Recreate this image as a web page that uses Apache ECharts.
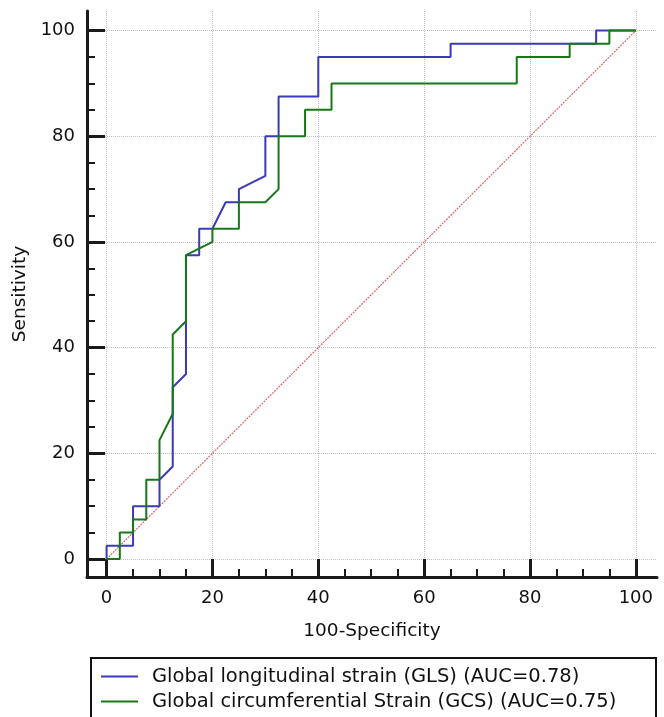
<!DOCTYPE html>
<html>
<head>
<meta charset="utf-8">
<script src="https://cdn.jsdelivr.net/npm/echarts@6/dist/echarts.min.js"></script>
<style>
html,body{margin:0;padding:0;background:#fff;}
#chart{width:664px;height:717px;}
</style>
</head>
<body>
<div id="chart"></div>
<script>
// ROC curve points: [100-Specificity, Sensitivity]
const glsName = 'Global longitudinal strain (GLS) (AUC=0.78)';
const gcsName = 'Global circumferential Strain (GCS) (AUC=0.75)';
const glsPoints = [
  [0,0],[0,2.5],[5,2.5],[5,10],[10,10],[10,15],[12.5,17.5],[12.5,32.5],[15,35],
  [15,57.5],[17.5,57.5],[17.5,62.5],[20,62.5],[22.5,67.5],[25,67.5],[25,70],
  [30,72.5],[30,80],[32.5,80],[32.5,87.5],[40,87.5],[40,95],[65,95],[65,97.5],
  [92.5,97.5],[92.5,100],[100,100]
];
const gcsPoints = [
  [0,0],[2.5,0],[2.5,5],[5,5],[5,7.5],[7.5,7.5],[7.5,15],[10,15],[10,22.5],
  [12.5,27.5],[12.5,42.5],[15,45],[15,57.5],[20,60],[20,62.5],[25,62.5],[25,67.5],
  [30,67.5],[32.5,70],[32.5,80],[37.5,80],[37.5,85],[42.5,85],[42.5,90],[77.5,90],
  [77.5,95],[87.5,95],[87.5,97.5],[95,97.5],[95,100],[100,100]
];
const diagonalPoints = [[0,0],[100,100]];
const majorTicks = [0,20,40,60,80,100];
const minorTicks = [5,10,15,25,30,35,45,50,55,65,70,75,85,90,95];

const font = 'DejaVu Sans, Verdana, sans-serif';
const gridBox = {left:87, right:7, top:11, bottom:140};
const xRange = {min:-3.7, max:104.0};
const yRange = {min:-3.4, max:103.7};

const chart = echarts.init(document.getElementById('chart'));
chart.setOption({
  animation:false,
  backgroundColor:'#fff',
  grid:[Object.assign({containLabel:false}, gridBox), Object.assign({containLabel:false}, gridBox)],
  graphic:[{
    type:'rect', left:90, top:657, z:0,
    shape:{width:565, height:80},
    style:{fill:'#fff', stroke:'#111', lineWidth:2}
  }],
  legend:{
    data:[{name:glsName},{name:gcsName}],
    orient:'vertical',
    left:101, top:664,
    padding:0,
    itemGap:0,
    icon:'rect', itemWidth:37, itemHeight:2,
    textStyle:{fontFamily:font, fontSize:19.5, color:'#111', lineHeight:25, padding:[0,0,0,9]},
    selectedMode:false
  },
  xAxis:[{
    type:'value', gridIndex:0, min:xRange.min, max:xRange.max,
    name:'100-Specificity', nameLocation:'middle', nameGap:45,
    nameTextStyle:{fontFamily:font, fontSize:18.5, color:'#111'},
    axisLine:{show:true, onZero:false, lineStyle:{color:'#1a1a1a', width:3}},
    axisTick:{show:true, inside:true, length:18, customValues:majorTicks, lineStyle:{color:'#1a1a1a', width:3}},
    axisLabel:{customValues:majorTicks, margin:12, fontFamily:font, fontSize:18, color:'#111'},
    splitLine:{show:true, lineStyle:{color:'#c0c0c0', type:'dotted', width:1}}
  },{
    type:'value', gridIndex:1, min:xRange.min, max:xRange.max,
    axisLine:{show:false, onZero:false},
    axisTick:{show:true, inside:true, length:8, customValues:minorTicks, lineStyle:{color:'#1a1a1a', width:2}},
    axisLabel:{show:false},
    splitLine:{show:false}
  }],
  yAxis:[{
    type:'value', gridIndex:0, min:yRange.min, max:yRange.max,
    name:'Sensitivity', nameLocation:'middle', nameGap:52,
    nameTextStyle:{fontFamily:font, fontSize:18.5, color:'#111'},
    axisLine:{show:true, onZero:false, lineStyle:{color:'#1a1a1a', width:3}},
    axisTick:{show:true, inside:true, length:18, customValues:majorTicks, lineStyle:{color:'#1a1a1a', width:3}},
    axisLabel:{customValues:majorTicks, margin:12, fontFamily:font, fontSize:18, color:'#111'},
    splitLine:{show:true, lineStyle:{color:'#c0c0c0', type:'dotted', width:1}}
  },{
    type:'value', gridIndex:1, min:yRange.min, max:yRange.max,
    axisLine:{show:false, onZero:false},
    axisTick:{show:true, inside:true, length:8, customValues:minorTicks, lineStyle:{color:'#1a1a1a', width:2}},
    axisLabel:{show:false},
    splitLine:{show:false}
  }],
  series:[
    {name:'diag', type:'line', xAxisIndex:0, yAxisIndex:0, data:diagonalPoints, symbol:'none',
     lineStyle:{color:'#d86a6a', width:1.2, type:[2,1]}, silent:true, z:1},
    {name:glsName, type:'line', xAxisIndex:0, yAxisIndex:0, data:glsPoints, symbol:'none',
     color:'#3a3ab8', lineStyle:{color:'#3a3ab8', width:2}, z:3},
    {name:gcsName, type:'line', xAxisIndex:0, yAxisIndex:0, data:gcsPoints, symbol:'none',
     color:'#187818', lineStyle:{color:'#187818', width:2}, z:4}
  ]
});
</script>
</body>
</html>
